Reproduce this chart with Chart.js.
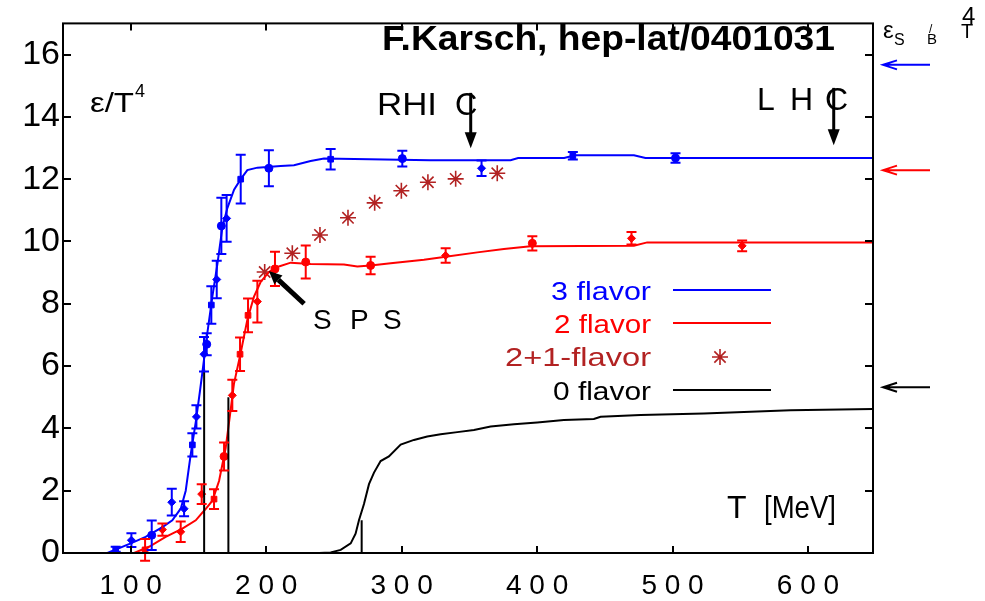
<!DOCTYPE html>
<html><head><meta charset="utf-8">
<script src="https://cdn.jsdelivr.net/npm/chart.js@4.4.1/dist/chart.umd.min.js"></script>
<style>html,body{margin:0;padding:0;background:#fff}canvas{display:block}</style>
</head><body>
<canvas id="c" width="985" height="601"></canvas>
<script>
const FONT = '"Liberation Sans", Arial, Helvetica, sans-serif';

// ---- axis ticks ----
const xTickValues = [100, 200, 300, 400, 500, 600];
const xTickLabels = ['1 0 0', '2 0 0', '3 0 0', '4 0 0', '5 0 0', '6 0 0'];
const yTickValues = [0, 2, 4, 6, 8, 10, 12, 14, 16];
const yTickLabels = ['0', '2', '4', '6', '8', '10', '12', '14', '16'];

// ---- 3 flavor lattice points ----
const blueT   = [88.9, 100.5, 115.5, 130.3, 139.4, 145.5, 148.5, 154.1, 156.1, 159.5, 163.5, 166.9, 170.8, 181.2, 202, 247.6, 300.5, 359, 426.4, 502.2];
const blueE   = [0.12, 0.41, 0.57, 1.63, 1.42, 3.47, 4.37, 6.38, 6.7, 7.96, 8.78, 10.5, 10.74, 12.0, 12.35, 12.64, 12.66, 12.35, 12.75, 12.68];
const blueErr = [0.08, 0.22, 0.47, 0.43, 0.24, 0.37, 0.37, 0.55, 0.35, 0.6, 0.6, 0.9, 0.75, 0.78, 0.58, 0.33, 0.25, 0.25, 0.12, 0.15];
const blueMark = ['rect','rectRot','circle','rectRot','rectRot','rect','rectRot','rectRot','circle','rect','rectRot','circle','rectRot','rect','circle','rect','circle','rectRot','rect','circle'];

// ---- 3 flavor curve ----
const blueCurveT = [82.8, 100, 111, 123.4, 130.7, 137, 140.6, 144.3, 148, 151, 152.9, 156.6, 160.3, 164, 167.7, 171.4, 176.3, 181.2, 186.1, 193.5, 210.7, 220.5, 232.8, 242.7, 321, 380.4, 386, 420, 428, 471.5, 480, 648];
const blueCurveE = [0, 0.31, 0.52, 0.83, 1.05, 1.43, 2.0, 3.17, 4.2, 5.16, 5.8, 7.07, 8.24, 9.28, 10.46, 11.08, 11.66, 12.0, 12.29, 12.37, 12.42, 12.45, 12.58, 12.66, 12.61, 12.61, 12.68, 12.68, 12.77, 12.77, 12.68, 12.68];

// ---- 2 flavor lattice points ----
const redT   = [110.6, 123.4, 136.9, 152.4, 161.5, 168.9, 175, 180.7, 186.6, 193.5, 206.5, 229.2, 277.1, 332.5, 396.5, 469.7, 551.4];
const redE   = [0.1, 0.75, 0.68, 1.89, 1.73, 3.1, 5.06, 6.38, 7.63, 8.07, 9.12, 9.34, 9.23, 9.55, 9.94, 10.1, 9.86];
const redErr = [0.35, 0.2, 0.33, 0.32, 0.32, 0.45, 0.5, 0.54, 0.54, 0.67, 0.55, 0.53, 0.28, 0.23, 0.23, 0.2, 0.17];
const redMark = ['rect','rectRot','rectRot','rectRot','rect','circle','rectRot','rect','rect','rectRot','circle','circle','circle','rectRot','circle','rectRot','rectRot'];

// ---- 2 flavor curve ----
const redCurveT = [102.5, 113.5, 125.8, 138.1, 148, 155.4, 160.3, 165.2, 170.1, 173.3, 176.2, 181.2, 186.1, 191, 195.9, 202, 208.3, 218.1, 232.8, 257.4, 267.3, 277.1, 291.9, 316.5, 332.5, 355.9, 375.5, 395.2, 471.5, 481.3, 648];
const redCurveE = [0, 0.2, 0.52, 0.78, 1.05, 1.42, 1.68, 2.31, 3.37, 4.43, 5.43, 6.43, 7.49, 8.23, 8.7, 9.02, 9.18, 9.32, 9.28, 9.26, 9.2, 9.23, 9.3, 9.41, 9.51, 9.65, 9.76, 9.85, 9.86, 9.97, 9.97];

// ---- 2+1 flavor ----
const starT = [198.9, 219.3, 239.7, 260.4, 280.1, 299.8, 319.4, 339.9, 370.6];
const starE = [9.02, 9.62, 10.21, 10.76, 11.24, 11.63, 11.9, 12.01, 12.19];

// ---- 0 flavor (pure gauge) ----
const blackT = [239, 247.6, 255, 262.4, 266, 268.5, 272.2, 275.9, 279.6, 284.5, 290.6, 299.3, 309.1, 318.9, 328.8, 341.1, 353.4, 365.7, 382.9, 400.1, 419.8, 441.9, 446.9, 476.4, 523.1, 587.1, 648];
const blackE = [0, 0.02, 0.1, 0.31, 0.62, 1.05, 1.57, 2.21, 2.58, 2.95, 3.1, 3.48, 3.63, 3.74, 3.81, 3.88, 3.95, 4.06, 4.13, 4.19, 4.27, 4.3, 4.37, 4.43, 4.48, 4.58, 4.62];

// ---- Tc markers ----
const tcT   = [154.2, 172.1, 270.5];
const tcTop = [5.9, 5.0, 1.05];

// ---- Stefan-Boltzmann limits (right-side arrows) ----
const sbE      = [15.67, 12.29, 5.32];
const sbColors = ['#0000ff', '#ff0000', '#000000'];

// ---- annotations (data coordinates) ----
const rhicT = 351, rhicFrom = 14.77, rhicTo = 12.99;
const lhcT  = 619, lhcFrom  = 14.93, lhcTo  = 13.09;
const spsFrom = [228, 8.0], spsTo = [202, 9.05];

const pts = (xs, ys) => xs.map((x, i) => ({x, y: ys[i]}));
const BLUE = '#0000ff', RED = '#ff0000', BROWN = '#b22222';

const datasets = [];
tcT.forEach((t, i) => datasets.push({
  data: [{x: t, y: 0}, {x: t, y: tcTop[i]}], showLine: true, borderColor: '#000',
  borderWidth: 2, pointRadius: 0, tension: 0
}));
datasets.push({label: '0 flavor', data: pts(blackT, blackE), showLine: true, borderColor: '#000', borderWidth: 2, pointRadius: 0, tension: 0});
datasets.push({label: '3 flavor curve', data: pts(blueCurveT, blueCurveE), showLine: true, borderColor: BLUE, borderWidth: 2, pointRadius: 0, tension: 0});
datasets.push({label: '2 flavor curve', data: pts(redCurveT, redCurveE), showLine: true, borderColor: RED, borderWidth: 2, pointRadius: 0, tension: 0});
datasets.push({label: '3 flavor', data: pts(blueT, blueE), errors: blueErr, showLine: false, pointStyle: blueMark,
  pointRadius: 4, backgroundColor: BLUE, borderColor: BLUE, borderWidth: 1});
datasets.push({label: '2 flavor', data: pts(redT, redE), errors: redErr, showLine: false, pointStyle: redMark,
  pointRadius: 4, backgroundColor: RED, borderColor: RED, borderWidth: 1});
datasets.push({label: '2+1-flavor', data: pts(starT, starE), showLine: false, pointStyle: 'star',
  pointRadius: 8, backgroundColor: BROWN, borderColor: BROWN, borderWidth: 1.6});

function txt(ctx, s, x, y, size, opts = {}) {
  ctx.save();
  ctx.font = (opts.bold ? 'bold ' : '') + size + 'px ' + FONT;
  ctx.fillStyle = opts.color || '#000';
  ctx.textBaseline = 'alphabetic';
  ctx.textAlign = 'left';
  if (opts.ls && 'letterSpacing' in ctx) ctx.letterSpacing = opts.ls + 'px';
  let w = ctx.measureText(s).width;
  let sx = opts.width ? opts.width / w : (opts.sx || 1);
  let x0 = opts.right ? x - w * sx : x;
  ctx.translate(x0, y);
  ctx.scale(sx, 1);
  ctx.fillText(s, 0, 0);
  ctx.restore();
}

const decor = {
  id: 'decor',
  afterDatasetsDraw(chart) {
    const {ctx, chartArea: a, scales: {x, y}} = chart;
    // error bars
    chart.data.datasets.forEach((ds, di) => {
      if (!ds.errors) return;
      const meta = chart.getDatasetMeta(di);
      ctx.save();
      ctx.strokeStyle = ds.borderColor; ctx.lineWidth = 2;
      meta.data.forEach((el, i) => {
        const px = el.x, v = ds.data[i].y, e = ds.errors[i];
        const y1 = y.getPixelForValue(v - e), y2 = y.getPixelForValue(v + e);
        ctx.beginPath();
        ctx.moveTo(px, y1); ctx.lineTo(px, y2);
        ctx.moveTo(px - 5, y1); ctx.lineTo(px + 5, y1);
        ctx.moveTo(px - 5, y2); ctx.lineTo(px + 5, y2);
        ctx.stroke();
      });
      ctx.restore();
    });
  },
  afterDraw(chart) {
    const {ctx, chartArea: a, scales: {x, y}} = chart;
    ctx.save();
    // frame
    ctx.strokeStyle = '#000'; ctx.lineWidth = 2;
    ctx.strokeRect(a.left, a.top, a.right - a.left, a.bottom - a.top);
    ctx.beginPath();
    xTickValues.forEach(v => {
      const px = Math.round(x.getPixelForValue(v));
      ctx.moveTo(px, a.bottom); ctx.lineTo(px, a.bottom - 7);
      ctx.moveTo(px, a.top); ctx.lineTo(px, a.top + 7);
    });
    yTickValues.forEach(v => {
      const py = Math.round(y.getPixelForValue(v));
      ctx.moveTo(a.left, py); ctx.lineTo(a.left + 8, py);
      ctx.moveTo(a.right, py); ctx.lineTo(a.right - 8, py);
    });
    ctx.stroke();

    // SB arrows on the right
    sbE.forEach((v, i) => {
      const py = y.getPixelForValue(v);
      ctx.strokeStyle = sbColors[i]; ctx.lineWidth = 2;
      ctx.beginPath();
      ctx.moveTo(930, py); ctx.lineTo(883, py);
      ctx.moveTo(897, py - 4.5); ctx.lineTo(883, py); ctx.lineTo(897, py + 4.5);
      ctx.stroke();
    });

    // RHIC / LHC arrows
    ctx.strokeStyle = '#000'; ctx.fillStyle = '#000';
    [[rhicT, rhicFrom, rhicTo], [lhcT, lhcFrom, lhcTo]].forEach(([t, f, to]) => {
      const px = x.getPixelForValue(t), p1 = y.getPixelForValue(f), p2 = y.getPixelForValue(to);
      ctx.lineWidth = 3;
      ctx.beginPath(); ctx.moveTo(px, p1); ctx.lineTo(px, p2 - 12); ctx.stroke();
      ctx.beginPath(); ctx.moveTo(px - 6, p2 - 16); ctx.lineTo(px + 6, p2 - 16); ctx.lineTo(px, p2); ctx.closePath(); ctx.fill();
    });
    // SPS arrow
    {
      const x1 = x.getPixelForValue(spsFrom[0]), y1 = y.getPixelForValue(spsFrom[1]);
      const x2 = x.getPixelForValue(spsTo[0]), y2 = y.getPixelForValue(spsTo[1]);
      const ang = Math.atan2(y2 - y1, x2 - x1);
      const hl = 13, hw = 6;
      const bx = x2 - hl * Math.cos(ang), by = y2 - hl * Math.sin(ang);
      ctx.lineWidth = 5;
      ctx.beginPath(); ctx.moveTo(x1, y1); ctx.lineTo(bx, by); ctx.stroke();
      ctx.beginPath();
      ctx.moveTo(x2, y2);
      ctx.lineTo(bx + hw * Math.sin(ang), by - hw * Math.cos(ang));
      ctx.lineTo(bx - hw * Math.sin(ang), by + hw * Math.cos(ang));
      ctx.closePath(); ctx.fill();
    }

    // texts
    txt(ctx, 'F.Karsch, hep-lat/0401031', 382, 50, 35, {bold: true, width: 453});
    txt(ctx, 'ε/T', 90, 112, 28, {width: 44});
    txt(ctx, '4', 135, 97, 18);
    txt(ctx, 'RHI', 377, 115, 31, {width: 60});
    txt(ctx, 'C', 455, 115, 31);
    txt(ctx, 'L', 757, 110, 32);
    txt(ctx, 'H', 790, 110, 32);
    txt(ctx, 'C', 825, 110, 32);
    txt(ctx, 'S', 313, 329, 28);
    txt(ctx, 'P', 350, 329, 28);
    txt(ctx, 'S', 383, 329, 28);
    txt(ctx, 'T', 727, 518, 32);
    txt(ctx, '[MeV]', 764, 518, 32, {width: 72});
    // SB label top-right
    txt(ctx, 'ε', 883, 38, 24);
    txt(ctx, 'S', 894, 45, 16);
    txt(ctx, '/', 929, 33, 12);
    txt(ctx, 'B', 927, 44, 15);
    txt(ctx, 'T', 961, 38, 20);
    txt(ctx, '4', 962, 24, 24);

    // legend
    const leg = [
      ['3 flavor', BLUE, 'line', 290, 300],
      ['2 flavor', RED, 'line', 323, 333],
      ['2+1-flavor', BROWN, 'star', 357, 366],
      ['0 flavor', '#000', 'line', 390, 400]
    ];
    const legW = {'3 flavor': 100, '2 flavor': 97, '2+1-flavor': 146, '0 flavor': 98};
    leg.forEach(([s, c, kind, ly, by]) => {
      txt(ctx, s, 651, by, 26, {color: c, right: true, width: legW[s]});
      ctx.strokeStyle = c;
      if (kind === 'line') {
        ctx.lineWidth = 2;
        ctx.beginPath(); ctx.moveTo(673, ly); ctx.lineTo(771, ly); ctx.stroke();
      } else {
        ctx.lineWidth = 1.6;
        ctx.beginPath();
        const r = 8, cx = 720;
        for (let k = 0; k < 4; k++) {
          const an = k * Math.PI / 4;
          ctx.moveTo(cx - r * Math.cos(an), ly - r * Math.sin(an));
          ctx.lineTo(cx + r * Math.cos(an), ly + r * Math.sin(an));
        }
        ctx.stroke();
      }
    });
    ctx.restore();
  }
};

new Chart(document.getElementById('c'), {
  type: 'scatter',
  data: {datasets},
  options: {
    responsive: false,
    devicePixelRatio: 1,
    animation: false,
    layout: {padding: {top: 15, right: 112, left: 0, bottom: 0}},
    plugins: {legend: {display: false}, tooltip: {enabled: false}},
    scales: {
      x: {
        type: 'linear', min: 50, max: 648,
        afterBuildTicks(s) { s.ticks = xTickValues.map(v => ({value: v})); },
        afterFit(s) { s.height = 48; },
        grid: {display: false, drawTicks: false},
        border: {display: false},
        ticks: {
          color: '#000', font: {size: 28, family: FONT}, padding: 16, maxRotation: 0, autoSkip: false,
          callback: (v) => xTickLabels[xTickValues.indexOf(v)]
        }
      },
      y: {
        type: 'linear', min: 0, max: 17,
        afterBuildTicks(s) { s.ticks = yTickValues.map(v => ({value: v})); },
        afterFit(s) { s.width = 63; },
        grid: {display: false, drawTicks: false},
        border: {display: false},
        ticks: {
          color: '#000', font: {size: 34, family: FONT}, padding: 3, autoSkip: false,
          callback: (v) => yTickLabels[yTickValues.indexOf(v)]
        }
      }
    }
  },
  plugins: [decor]
});
</script>
</body></html>
